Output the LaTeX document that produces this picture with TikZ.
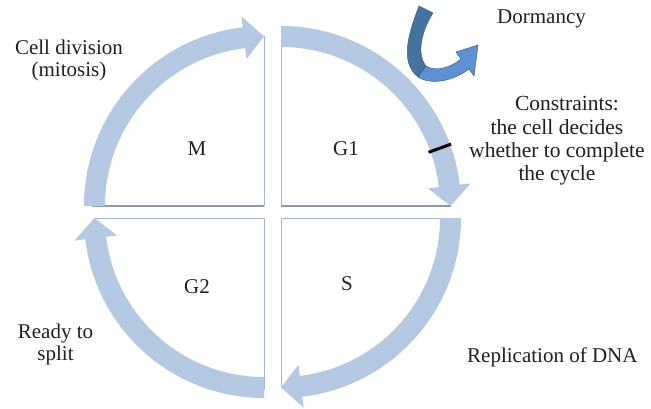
\documentclass[tikz,border=0pt]{standalone}
\usepackage{fontspec}
\setmainfont{Liberation Serif}
\usetikzlibrary{calc}
\definecolor{bandc}{HTML}{B5C9E2}
\definecolor{boxc}{HTML}{A3B7CF}
\definecolor{boxd}{HTML}{8C9AAB}
\definecolor{txt}{HTML}{231F20}
\definecolor{dormA}{HTML}{46729E}
\definecolor{dormB}{HTML}{5F90CF}
\definecolor{dormE}{HTML}{3A6590}
\newcommand\qarrow[3]{%
  \fill[bandc] ($(#1)+(#2:180)$) arc[start angle=#2, end angle=#3-6.8, radius=180]
    -- ($(#1)+(#3-6.8:191)$) -- ($(#1)+(#3:169.5)$) -- ($(#1)+(#3-6.8:148)$)
    -- ($(#1)+(#3-6.8:159)$) arc[start angle=#3-6.8, end angle=#2, radius=159] -- cycle;}
\tikzset{
  lab/.style={text=txt, inner sep=0pt, font=\fontsize{21}{22}\selectfont},
  edgelight/.style={draw=boxc, line width=1pt},
  edgedark/.style={draw=boxd, line width=1.2pt},
}
\begin{document}
\begin{tikzpicture}[x=1pt, y=-1pt]
\useasboundingbox (0,0) rectangle (651,408);
\fill[white] (0,0) rectangle (651,408);
% quadrant centres
\coordinate (cM) at (264,206);
\coordinate (cG1) at (281,206);
\coordinate (cG2) at (264,218);
\coordinate (cS) at (281,218);
% quadrant outlines
\draw[edgedark] (cM) -- ($(cM)+(180:172)$);
\draw[edgelight] (cM) -- ($(cM)+(270:170)$);
\draw[edgelight] (cG1) -- ($(cG1)+(270:172)$);
\draw[edgedark] (cG1) -- ($(cG1)+(0:170)$);
\draw[edgelight] (cG2) -- ($(cG2)+(180:170)$);
\draw[edgelight] (cG2) -- ($(cG2)+(90:172)$);
\draw[edgelight] (cS) -- ($(cS)+(0:172)$);
\draw[edgelight] (cS) -- ($(cS)+(90:170)$);
% cycle arrows
\qarrow{cM}{180}{270}
\qarrow{cG1}{270}{360}
\qarrow{cS}{0}{90}
\qarrow{cG2}{90}{180}
% checkpoint mark
\draw[black, line width=3pt] ($(cG1)+(-20:157)$) -- ($(cG1)+(-20:181)$);
% dormancy arrow
\fill[dormA, draw=dormE, line width=0.5pt] (419,6) .. controls (409,32) and (399,62) .. (418,77)
  -- (426,66) .. controls (416,54) and (422,30) .. (433,13) -- cycle;
\fill[dormB, draw=dormE, line width=0.5pt] (418,77) .. controls (432,86) and (455,80) .. (469,69)
  -- (474,76) -- (478,45) -- (456,52) -- (461,59)
  .. controls (450,68) and (435,72) .. (426,66) -- cycle;
% labels
\node[lab, anchor=base] (tM) at (197,155) {M};
\node[lab, anchor=base] (tG1) at (346,155) {G1};
\node[lab, anchor=base] (tG2) at (197,293) {G2};
\node[lab, anchor=base] (tS) at (347,290) {S};
\node[lab, anchor=base west] (tDorm) at (497,23) {Dormancy};
\node[lab, anchor=base west] (tRep) at (467,362) {Replication of DNA};
\node[lab, align=center, anchor=north] (tCell) at (69,39.7) {Cell division\\(mitosis)};
\node[lab, align=center, anchor=north, font=\fontsize{21.5}{23.3}\selectfont] (tCon) at (557,96.5) {\hspace*{20pt}Constraints:\\the cell decides\\whether to complete\\the cycle};
\node[lab, align=center, anchor=north] (tReady) at (55.5,323.7) {Ready to\\split};
\end{tikzpicture}
\end{document}
